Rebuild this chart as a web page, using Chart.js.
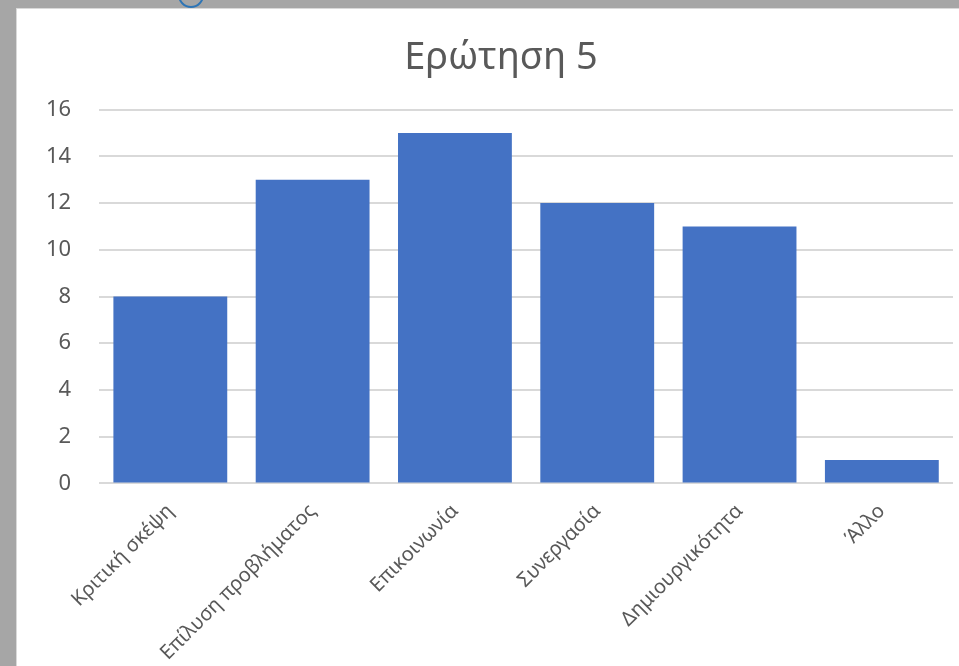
<!DOCTYPE html>
<html>
<head>
<meta charset="utf-8">
<script src="https://cdn.jsdelivr.net/npm/chart.js@4"></script>
<style>
    html, body { margin: 0; padding: 0; width: 959px; height: 666px; overflow: hidden; background: #a6a6a6; }
    #frame { position: absolute; left: 16px; top: 8px; width: 968px; height: 658px; background: #fff; border-top: 1px solid #d9d9d9; border-left: 1px solid #d9d9d9; }
    #icon { position: absolute; left: 178px; top: -18px; width: 22px; height: 22px; border-radius: 50%; border: 2px solid #2e75b6; }
</style>
</head>
<body>
<div id="icon"></div>
<div id="frame"><canvas id="chart"></canvas></div>
<script>
// Chart data
const categories = ['Κριτική σκέψη', 'Επίλυση προβλήματος', 'Επικοινωνία', 'Συνεργασία', 'Δημιουργικότητα', 'Άλλο'];
const values = [8, 13, 15, 12, 11, 1];
const yTicks = [0, 2, 4, 6, 8, 10, 12, 14, 16];

const textColor = '#595959';
const fontFamily = '"Noto Sans", "Open Sans", sans-serif';

// Excel centres the title over the whole chart area, not the plot + axis
const centerTitle = {
    id: 'centerTitle',
    afterLayout(chart) {
        if (chart.titleBlock) {
            chart.titleBlock.left = 0;
            chart.titleBlock.right = chart.width;
        }
    }
};

const ctx = document.getElementById('chart').getContext('2d');
new Chart(ctx, {
    type: 'bar',
    data: {
        labels: categories,
        datasets: [{
            label: 'Ερώτηση 5',
            data: values,
            backgroundColor: '#4472c4',
            borderWidth: 0,
            barPercentage: 0.8,
            categoryPercentage: 1.0
        }]
    },
    options: {
        responsive: true,
        maintainAspectRatio: false,
        animation: false,
        layout: {
            padding: { left: 1, right: 32, top: 0, bottom: -6 }
        },
        plugins: {
            legend: { display: false },
            tooltip: { enabled: false },
            title: {
                display: true,
                text: 'Ερώτηση 5',
                color: textColor,
                font: { family: fontFamily, size: 38, weight: 'normal' },
                padding: { top: 26, bottom: 29 }
            }
        },
        scales: {
            x: {
                grid: { display: false },
                border: { display: false },
                ticks: {
                    color: textColor,
                    font: { family: fontFamily, size: 20 },
                    minRotation: 45,
                    maxRotation: 45,
                    padding: 8
                }
            },
            y: {
                min: 0,
                max: 16,
                afterBuildTicks: (axis) => {
                    axis.ticks = yTicks.map(v => ({ value: v }));
                },
                grid: { color: '#d9d9d9', lineWidth: 2, drawTicks: false },
                border: { display: false },
                ticks: {
                    color: textColor,
                    font: { family: fontFamily, size: 22 },
                    padding: 28
                }
            }
        }
    },
    plugins: [centerTitle]
});
</script>
</body>
</html>
